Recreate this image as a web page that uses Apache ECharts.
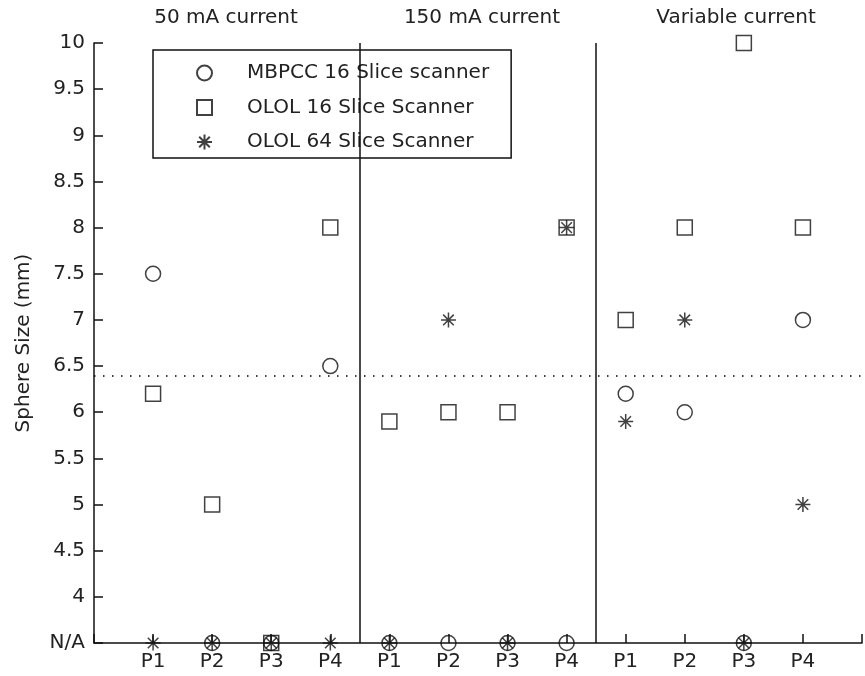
<!DOCTYPE html>
<html>
<head>
<meta charset="utf-8">
<script src="https://cdn.jsdelivr.net/npm/echarts@6/dist/echarts.min.js"></script>
<style>
  html, body { margin: 0; padding: 0; background: #fff; }
  #chart { width: 865px; height: 676px; }
</style>
</head>
<body>
<div id="chart"></div>
<script>
// Patient labels repeated inside each current group
const patients = ['P1', 'P2', 'P3', 'P4'];
const groups = ['50 mA current', '150 mA current', 'Variable current'];
const seriesNames = ['MBPCC 16 Slice scanner', 'OLOL 16 Slice Scanner', 'OLOL 64 Slice Scanner'];

// Smallest detected sphere size (mm), 12 entries: P1..P4 for each group in order.
// null = not detected, plotted on the N/A row.
const mbpcc16 = [7.5, null, null, 6.5,   null, null, null, null,   6.2, 6, null, 7];
const olol16  = [6.2, 5, null, 8,        5.9, 6, 6, 8,             7, 8, 10, 8];
const olol64  = [null, null, null, null, null, 7, null, 8,         5.9, 7, null, 5];

const NA_LEVEL = 3.5;          // y position of the "N/A" row
const threshold = 6.4;         // dotted reference level
const groupBounds = [4.5, 8.5]; // separators between current groups

const toPoints = arr => arr.map((v, i) => [i + 1, v == null ? NA_LEVEL : v]);

const FONT = 'DejaVu Sans';
const INK = '#111';

const starPath = 'path://M0 -10L0 10M-10 0L10 0M-7.07 -7.07L7.07 7.07M-7.07 7.07L7.07 -7.07';

const markerStyle = { color: 'rgba(0,0,0,0)', borderColor: INK, borderWidth: 1.5 };

const chart = echarts.init(document.getElementById('chart'), null, { renderer: 'canvas' });

chart.setOption({
  animation: false,
  backgroundColor: '#fff',
  textStyle: { fontFamily: FONT },
  grid: { left: 94, right: -1, top: 43, bottom: 33, containLabel: false },
  legend: {
    orient: 'vertical',
    left: 153,
    top: 50,
    data: seriesNames,
    itemWidth: 15,
    itemHeight: 15,
    itemGap: 14.5,
    padding: [13, 22, 6, 43],
    backgroundColor: '#fff',
    borderColor: INK,
    borderWidth: 1.5,
    borderRadius: 0,
    selectedMode: false,
    textStyle: { fontFamily: FONT, fontSize: 20, color: '#222', lineHeight: 20, padding: [0, 0, 0, 30] }
  },
  xAxis: {
    type: 'value',
    min: 0,
    max: 13,
    interval: 1,
    splitLine: { show: false },
    axisLine: { lineStyle: { color: INK, width: 1.5 } },
    axisTick: { inside: true, length: 9, lineStyle: { color: INK, width: 1.5 } },
    axisLabel: {
      margin: 9,
      fontFamily: FONT,
      fontSize: 20,
      color: '#222',
      formatter: v => {
        const i = Math.round(v) - 1;
        return i >= 0 && i < patients.length * groups.length ? patients[i % patients.length] : '';
      }
    }
  },
  yAxis: {
    type: 'value',
    min: NA_LEVEL,
    max: 10,
    interval: 0.5,
    name: 'Sphere Size (mm)',
    nameLocation: 'middle',
    nameGap: 60,
    nameTextStyle: { fontFamily: FONT, fontSize: 20, color: '#222' },
    splitLine: { show: false },
    axisLine: { lineStyle: { color: INK, width: 1.5 } },
    axisTick: { inside: true, length: 9, lineStyle: { color: INK, width: 1.5 } },
    axisLabel: {
      margin: 9,
      fontFamily: FONT,
      fontSize: 20,
      color: '#222',
      formatter: v => (Math.abs(v - NA_LEVEL) < 1e-9 ? 'N/A' : String(v))
    }
  },
  series: [
    {
      name: seriesNames[0],
      type: 'scatter',
      clip: false,
      symbol: 'circle',
      symbolSize: 15,
      itemStyle: markerStyle,
      emphasis: { disabled: true },
      data: toPoints(mbpcc16),
      markLine: {
        silent: true,
        symbol: 'none',
        label: { show: false },
        emphasis: { disabled: true },
        data: [
          ...groupBounds.map(x => ({ xAxis: x, lineStyle: { color: INK, width: 1.5, type: 'solid' } })),
          { yAxis: threshold, lineStyle: { color: '#000', width: 1.5, type: [1.5, 7.5] } }
        ]
      }
    },
    {
      name: seriesNames[1],
      type: 'scatter',
      clip: false,
      symbol: 'rect',
      symbolSize: 15,
      itemStyle: markerStyle,
      emphasis: { disabled: true },
      data: toPoints(olol16)
    },
    {
      name: seriesNames[2],
      type: 'scatter',
      clip: false,
      symbol: starPath,
      symbolSize: 15,
      itemStyle: markerStyle,
      emphasis: { disabled: true },
      data: toPoints(olol64)
    }
  ],
  graphic: [
    { type: 'text', x: 226, y: 18, style: { text: groups[0], font: '20px ' + FONT, fill: '#222', align: 'center', verticalAlign: 'middle' } },
    { type: 'text', x: 482, y: 18, style: { text: groups[1], font: '20px ' + FONT, fill: '#222', align: 'center', verticalAlign: 'middle' } },
    { type: 'text', x: 736, y: 18, style: { text: groups[2], font: '20px ' + FONT, fill: '#222', align: 'center', verticalAlign: 'middle' } }
  ]
});
</script>
</body>
</html>
